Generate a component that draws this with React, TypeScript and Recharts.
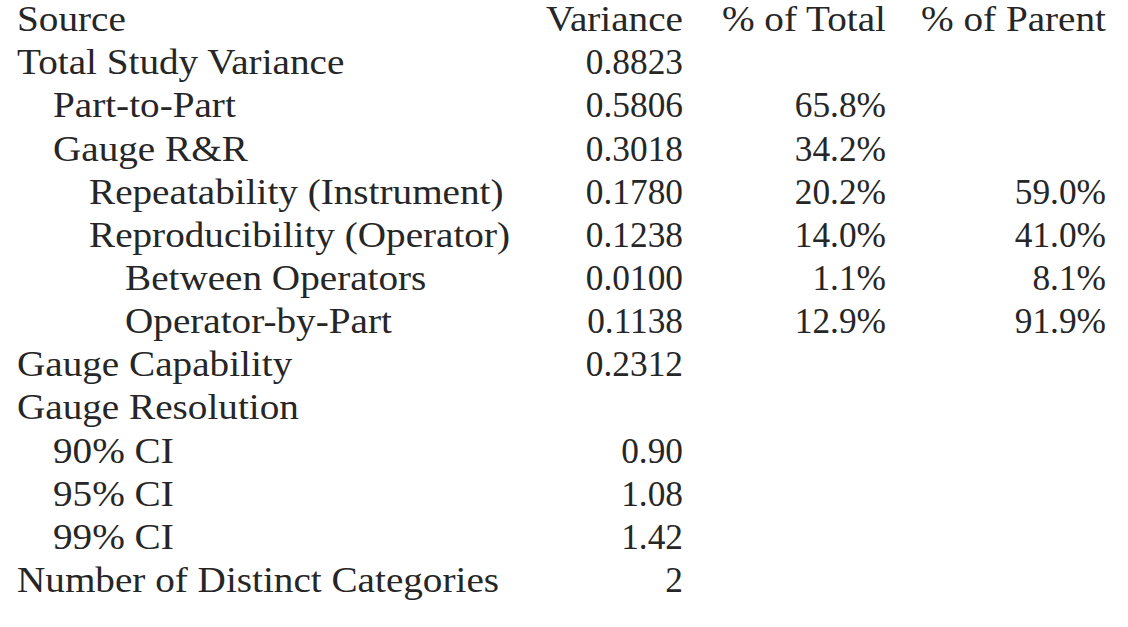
import React from "react";
import { ScatterChart, Scatter, XAxis, YAxis } from "recharts";

const headers = ["Source", "Variance", "% of Total", "% of Parent"];

const sources = [
  "Total Study Variance",
  "Part-to-Part",
  "Gauge R&R",
  "Repeatability (Instrument)",
  "Reproducibility (Operator)",
  "Between Operators",
  "Operator-by-Part",
  "Gauge Capability",
  "Gauge Resolution",
  "90% CI",
  "95% CI",
  "99% CI",
  "Number of Distinct Categories",
];

const levels = [0, 1, 1, 2, 2, 3, 3, 0, 0, 1, 1, 1, 0];

const variance = [
  "0.8823", "0.5806", "0.3018", "0.1780", "0.1238", "0.0100", "0.1138",
  "0.2312", null, "0.90", "1.08", "1.42", "2",
];

const pctTotal = [
  null, "65.8%", "34.2%", "20.2%", "14.0%", "1.1%", "12.9%",
  null, null, null, null, null, null,
];

const pctParent = [
  null, null, null, "59.0%", "41.0%", "8.1%", "91.9%",
  null, null, null, null, null, null,
];

// layout
const W = 1128;
const H = 627;
const COL_X = [17, 683, 886, 1106];
const INDENT = 36;
const FONT = "Liberation Serif";
const FONT_SIZE = 35;
const BASE_DY = 8;
const WORD_STRETCH = 1.12;

type Cell = {
  x: number;
  y: number;
  text: string;
  level: number;
  anchor: "start" | "end";
  word: boolean;
};

const headerCells: Cell[] = headers.map((h, i) => ({
  x: COL_X[i],
  y: 0,
  text: h,
  level: 0,
  anchor: i === 0 ? "start" : "end",
  word: true,
}));

const sourceCells: Cell[] = sources.map((s, i) => ({
  x: COL_X[0],
  y: i + 1,
  text: s,
  level: levels[i],
  anchor: "start",
  word: true,
}));

const valueCells = (vals: (string | null)[], col: number): Cell[] =>
  vals
    .map((v, i) => ({
      x: COL_X[col],
      y: i + 1,
      text: v,
      level: 0,
      anchor: "end" as const,
      word: false,
    }))
    .filter((c): c is Cell => c.text !== null);

const TextMark = (props: any) => {
  const { cx, cy, payload } = props;
  const sx = payload.word ? WORD_STRETCH : 1.01;
  return (
    <text
      x={0}
      y={0}
      transform={`translate(${cx + payload.level * INDENT}, ${cy + BASE_DY}) scale(${sx}, 1)`}
      textAnchor={payload.anchor}
      fontFamily={FONT}
      fontSize={FONT_SIZE}
      fill="#262626"
    >
      {payload.text}
    </text>
  );
};

export default function App() {
  return (
    <div style={{ position: "absolute", left: 0, top: 0, width: W, height: H, background: "#fff" }}>
      <ScatterChart width={W} height={H} margin={{ top: 0, right: 0, bottom: 0, left: 0 }}>
        <XAxis type="number" dataKey="x" domain={[0, W]} hide />
        <YAxis type="number" dataKey="y" domain={[-0.538, 13.996]} reversed hide />
        <Scatter data={headerCells} shape={TextMark} isAnimationActive={false} />
        <Scatter data={sourceCells} shape={TextMark} isAnimationActive={false} />
        <Scatter data={valueCells(variance, 1)} shape={TextMark} isAnimationActive={false} />
        <Scatter data={valueCells(pctTotal, 2)} shape={TextMark} isAnimationActive={false} />
        <Scatter data={valueCells(pctParent, 3)} shape={TextMark} isAnimationActive={false} />
      </ScatterChart>
    </div>
  );
}
